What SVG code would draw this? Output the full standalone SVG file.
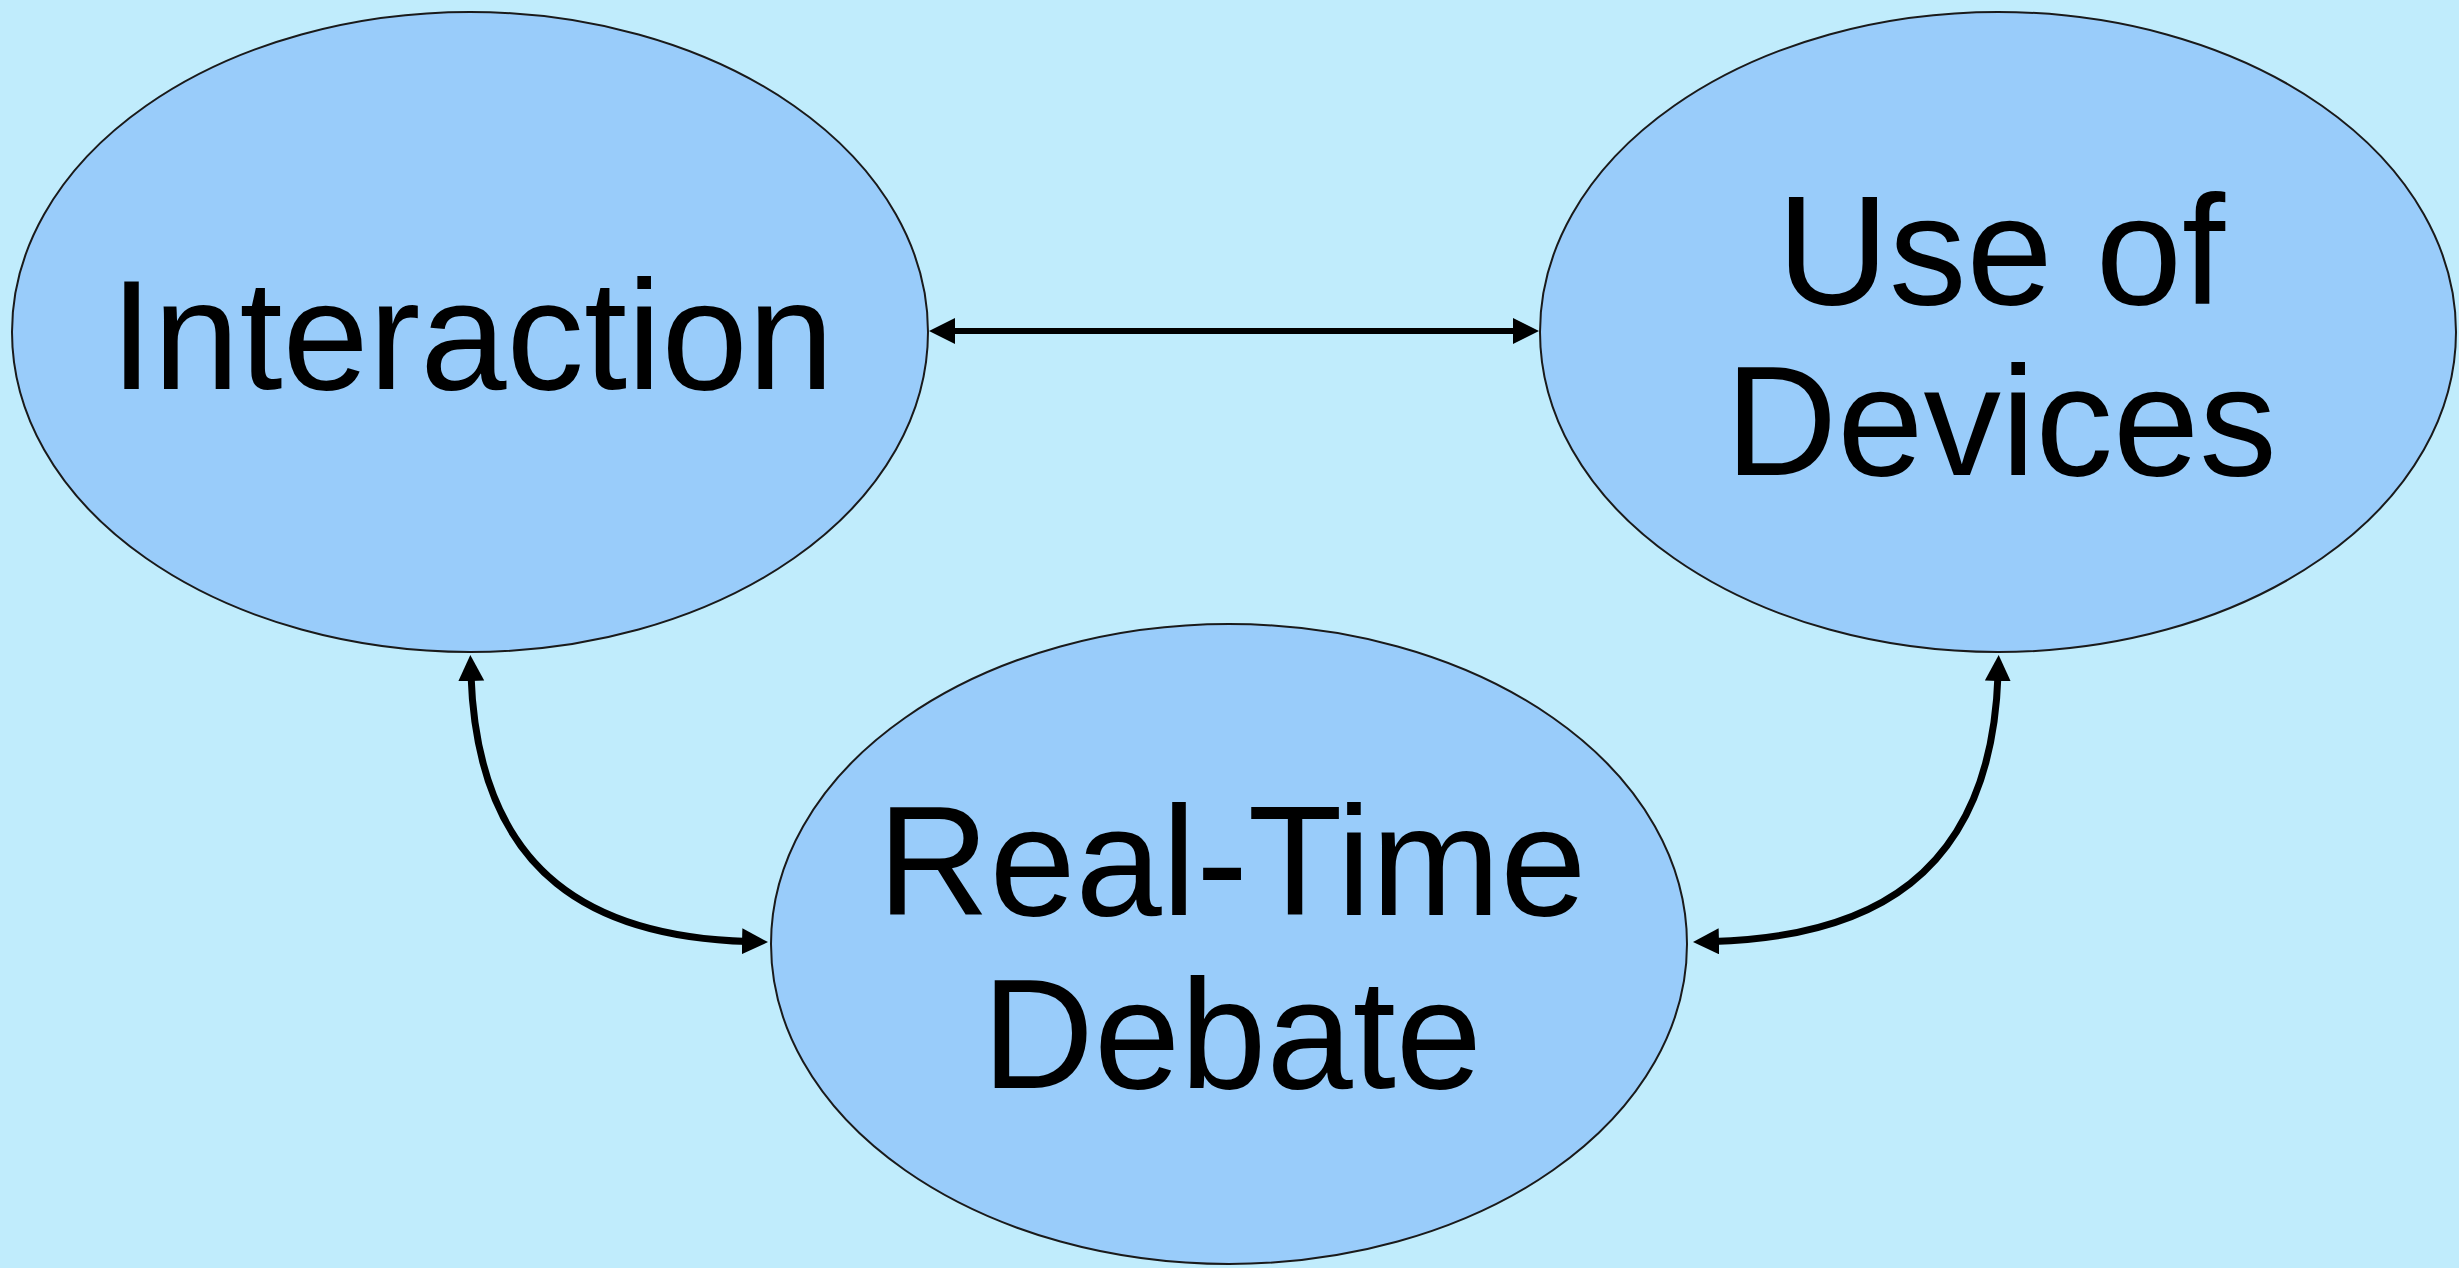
<svg xmlns="http://www.w3.org/2000/svg" width="2459" height="1268" viewBox="0 0 2459 1268">
<style>
.node{fill:#99CCFA;stroke:#1a1a1a;stroke-width:2}
.lbl{font-family:"Liberation Sans",Arial,sans-serif;font-size:155px;fill:#000;text-anchor:middle}
.conn{fill:none;stroke:#000;stroke-width:6}
.curve{stroke-width:7}
</style>
<defs>
<marker id="ah" markerUnits="userSpaceOnUse" markerWidth="30" markerHeight="30" refX="6" refY="13" orient="auto-start-reverse" viewBox="0 0 30 30">
<path d="M0,0 L26,13 L0,26 z" fill="#000"/>
</marker>
</defs>
<rect x="0" y="0" width="2459" height="1268" fill="#C0ECFC"/>
<g id="connectors">
<path class="conn" d="M949,331 L1519,331" marker-start="url(#ah)" marker-end="url(#ah)"/>
<path class="conn curve" d="M471,675 C478,880 600,937 748,941.5" marker-start="url(#ah)" marker-end="url(#ah)"/>
<path class="conn curve" d="M1998,675 C1991,880 1866,937 1713,941.5" marker-start="url(#ah)" marker-end="url(#ah)"/>
</g>
<g id="interaction">
<ellipse class="node" cx="470" cy="332" rx="458" ry="320"/>
<text class="lbl" x="472" y="389">Interaction</text>
</g>
<g id="use-of-devices">
<ellipse class="node" cx="1998" cy="332" rx="458" ry="320"/>
<text class="lbl" x="2001" y="304">Use of</text>
<text class="lbl" x="2001" y="475">Devices</text>
</g>
<g id="real-time-debate">
<ellipse class="node" cx="1229" cy="944" rx="458" ry="320"/>
<text class="lbl" x="1232" y="915">Real-Time</text>
<text class="lbl" x="1232" y="1088">Debate</text>
</g>
</svg>
